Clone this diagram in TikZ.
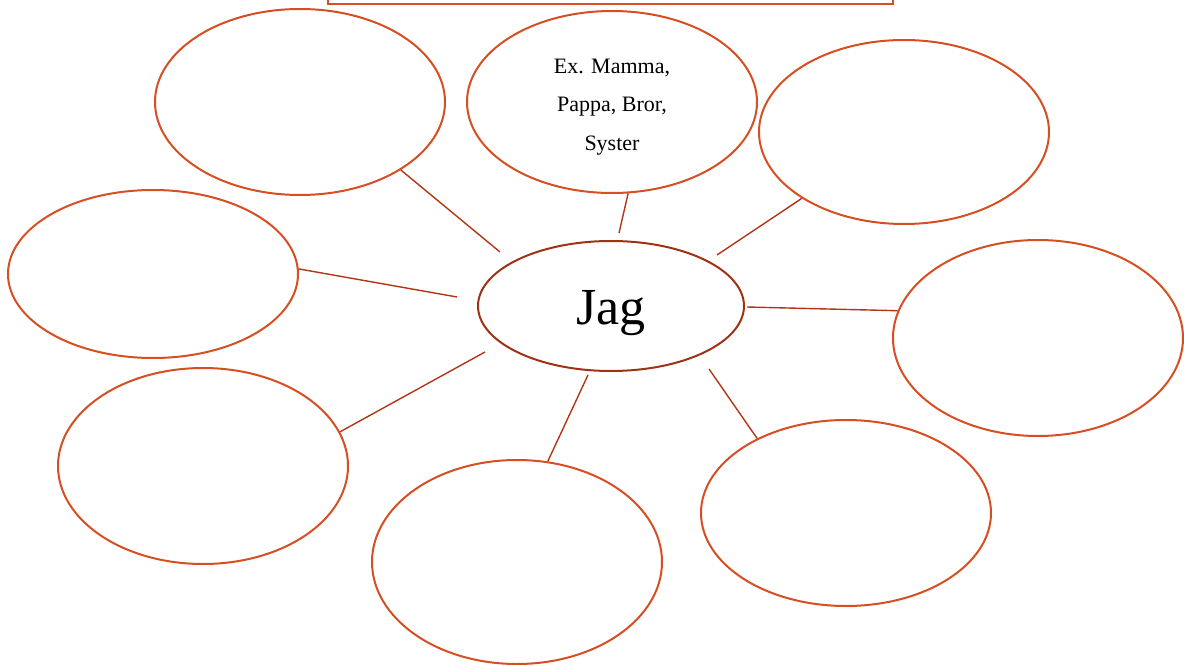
\documentclass[tikz,border=0pt]{standalone}
\usepackage{fontspec}
\setmainfont{Liberation Serif}
\usetikzlibrary{shapes.geometric}
\definecolor{orng}{RGB}{214,78,34}
\definecolor{dkred}{RGB}{158,50,20}
\definecolor{lnred}{RGB}{176,54,22}
\begin{document}
\begin{tikzpicture}[x=1pt,y=-1pt,
  bub/.style={ellipse,draw=orng,line width=2pt,inner sep=0pt,minimum width=290pt},
  conn/.style={draw=lnred,line width=1.4pt}]
\useasboundingbox (0,0) rectangle (1184,666);
\begin{scope}
\clip (0,0) rectangle (1184,666);
\draw[orng,line width=1.6pt] (328,-40) rectangle (893,4);
\end{scope}
\node[bub,minimum height=186pt] (tl) at (300,102) {};
\node[bub,minimum height=182pt] (tm) at (612,102) {};
\node[align=center,font=\fontsize{22}{38.5}\selectfont] (tmtext) at (612,107) {Ex. Mamma,\\Pappa, Bror,\\Syster};
\node[bub,minimum height=184pt] (tr) at (904,132) {};
\node[bub,minimum height=168pt] (lf) at (153,274) {};
\node[bub,minimum height=196pt] (rt) at (1038,338) {};
\node[bub,minimum height=196pt] (bl) at (203,466) {};
\node[bub,minimum height=204pt] (bm) at (517,562) {};
\node[bub,minimum height=186pt] (br) at (846,513) {};
\node[ellipse,draw=dkred,line width=2pt,inner sep=0pt,minimum width=266pt,minimum height=130pt] (jag) at (611,306) {};
\node[font=\fontsize{52}{60}\selectfont] (jagtext) at (611,313) {Jag};
\coordinate (j1) at (500,252);
\coordinate (j2) at (619,233);
\coordinate (j3) at (717,255);
\coordinate (j4) at (457,297);
\coordinate (j5) at (747,307);
\coordinate (j6) at (485,352);
\coordinate (j7) at (588,375);
\coordinate (j8) at (709,369);
\draw[conn] (tl.-34) -- (j1);
\draw[conn] (tm.-80.6) -- (j2);
\draw[conn] (tr.-147) -- (j3);
\draw[conn] (lf.2.7) -- (j4);
\draw[conn] (rt.169) -- (j5);
\draw[conn] (bl.14.8) -- (j6);
\draw[conn] (bm.73.3) -- (j7);
\draw[conn] (br.140) -- (j8);
\end{tikzpicture}
\end{document}
